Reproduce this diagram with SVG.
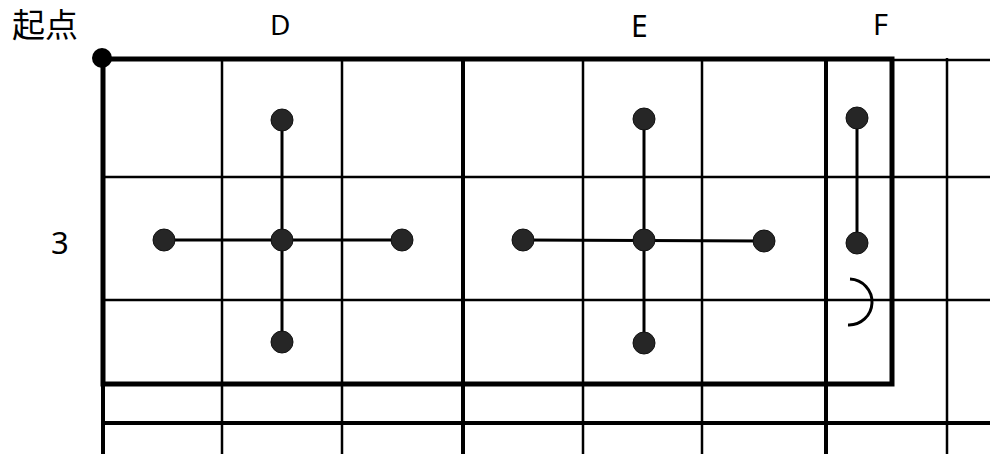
<svg xmlns="http://www.w3.org/2000/svg" width="990" height="454" viewBox="0 0 990 454">
<style>
.g{stroke:#000;stroke-width:2.5;fill:none}
.gt{stroke:#000;stroke-width:4;fill:none}
.c{stroke:#000;stroke-width:3;fill:none}
.dot{fill:#262626;stroke:#111;stroke-width:1}
.lbl{font-family:"Noto Sans","Noto Sans CJK SC",sans-serif;fill:#000}
</style>
<rect width="990" height="454" fill="#fff"/>
<g id="grid">
<line class="g" x1="103" y1="177" x2="990" y2="177"/>
<line class="g" x1="103" y1="300" x2="990" y2="300"/>
<line class="gt" x1="103" y1="423" x2="990" y2="423"/>
<line class="g" x1="892" y1="60" x2="990" y2="60"/>
<line class="g" x1="222" y1="58" x2="222" y2="454"/>
<line class="g" x1="342" y1="58" x2="342" y2="454"/>
<line class="gt" x1="463" y1="58" x2="463" y2="454"/>
<line class="g" x1="583" y1="58" x2="583" y2="454"/>
<line class="g" x1="702" y1="58" x2="702" y2="454"/>
<line class="gt" x1="826" y1="58" x2="826" y2="454"/>
<line class="g" x1="947" y1="58" x2="947" y2="454"/>
<line class="gt" x1="103" y1="384" x2="103" y2="454"/>
</g>
<g id="frame">
<rect x="103" y="59" width="789" height="325" fill="none" stroke="#000" stroke-width="5"/>
</g>
<g id="connectors">
<line class="c" x1="282" y1="120" x2="282" y2="342"/>
<line class="c" x1="164" y1="240" x2="402" y2="240"/>
<line class="c" x1="644" y1="119" x2="644" y2="343"/>
<line class="c" x1="523" y1="240" x2="764" y2="241"/>
<line class="c" x1="857" y1="118" x2="857" y2="243"/>
<path class="c" d="M850,279 A23,23 0 0 1 848,325"/>
</g>
<g id="origin"><circle cx="102" cy="58" r="10" fill="#000"/></g>
<g id="D-center"><circle class="dot" cx="282" cy="240" r="11"/></g>
<g id="D-top"><circle class="dot" cx="282" cy="120" r="11"/></g>
<g id="D-bottom"><circle class="dot" cx="282" cy="342" r="11"/></g>
<g id="D-left"><circle class="dot" cx="164" cy="240" r="11"/></g>
<g id="D-right"><circle class="dot" cx="402" cy="240" r="11"/></g>
<g id="E-center"><circle class="dot" cx="644" cy="240" r="11"/></g>
<g id="E-top"><circle class="dot" cx="644" cy="119" r="11"/></g>
<g id="E-bottom"><circle class="dot" cx="644" cy="343" r="11"/></g>
<g id="E-left"><circle class="dot" cx="523" cy="240" r="11"/></g>
<g id="E-right"><circle class="dot" cx="764" cy="241" r="11"/></g>
<g id="F-top"><circle class="dot" cx="857" cy="118" r="11"/></g>
<g id="F-bottom"><circle class="dot" cx="857" cy="243" r="11"/></g>
<g id="labels">
<text class="lbl" x="12" y="37" font-size="33">起点</text>
<text class="lbl" x="270" y="35" font-size="28">D</text>
<text class="lbl" x="631" y="37" font-size="30">E</text>
<text class="lbl" x="873" y="35" font-size="29">F</text>
<text class="lbl" x="51" y="254" font-size="31">3</text>
</g>
</svg>
